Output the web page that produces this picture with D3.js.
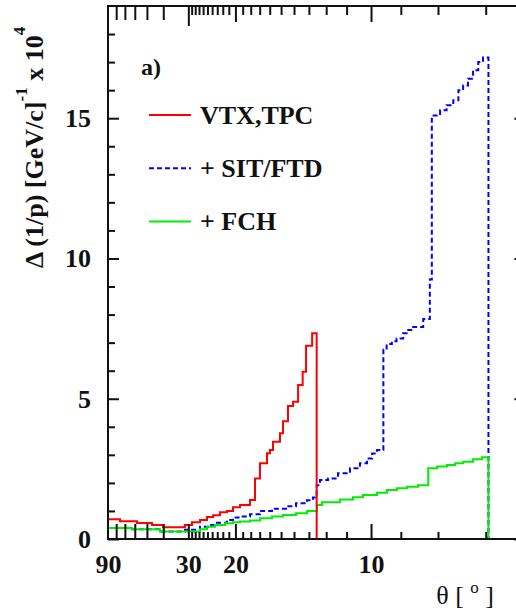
<!DOCTYPE html>
<html>
<head>
<meta charset="utf-8">
<script src="https://cdn.jsdelivr.net/npm/d3@7"></script>
<style>
  html, body { margin: 0; padding: 0; background: #fff; }
  svg { display: block; }
</style>
</head>
<body>
<svg id="chart" width="516" height="612"></svg>
<script>
// Momentum resolution Δ(1/p) [10^-4 (GeV/c)^-1] versus polar angle θ [deg].
// Each series: left bin edges in θ (decreasing), value of each bin, and the last edge.
const vtxTheta = [90, 75.5, 58.0, 46.5, 40.1, 31.1, 28.9, 26.75, 25.1, 23.8, 22.5, 21.3, 20.36, 19.36,
                  18.09, 17.51, 16.97, 16.26, 15.98, 15.70, 15.09, 14.84, 14.45, 14.07, 13.71, 13.40, 13.18, 12.80];
const vtxValue = [0.70, 0.63, 0.57, 0.50, 0.42, 0.50, 0.60, 0.68, 0.78, 0.85, 0.95, 1.00, 1.13, 1.21,
                  1.39, 2.16, 2.70, 3.06, 3.17, 3.47, 3.77, 4.20, 4.74, 4.89, 5.49, 5.96, 6.89, 7.33];
const vtxEnd = 12.53;

const sitTheta = [90, 62.64, 41.73, 31.06, 26.75, 24.45, 23.05, 21.30, 20.36, 19.36, 18.09, 16.97, 15.79,
                  14.60, 13.86, 13.12, 12.75, 12.53, 12.34, 11.90, 11.40, 10.85, 10.43, 10.15, 9.96, 9.78,
                  9.56, 9.45, 9.28, 9.13, 8.93, 8.78, 8.64, 8.37, 8.20, 8.15, 7.95, 7.80, 7.65, 7.54,
                  7.44, 7.34, 7.24, 7.14, 7.05];
const sitValue = [0.39, 0.35, 0.27, 0.33, 0.44, 0.50, 0.58, 0.68, 0.77, 0.80, 0.88, 1.00, 1.08,
                  1.17, 1.27, 1.38, 1.48, 1.92, 2.10, 2.16, 2.34, 2.52, 2.70, 2.87, 3.05, 3.17,
                  6.75, 6.95, 7.05, 7.15, 7.33, 7.45, 7.56, 7.84, 9.25, 15.10, 15.28, 15.46, 15.64, 16.00,
                  16.17, 16.41, 16.71, 17.00, 17.16];
const sitEnd = 6.95;

const fchTheta = [90, 62.64, 41.73, 26.75, 25.10, 23.44, 21.63, 20.36, 19.36, 18.09, 16.97, 15.79, 14.84,
                  13.86, 13.12, 12.51, 12.23, 11.31, 10.72, 10.31, 9.78, 9.44, 9.12, 8.82, 8.51,
                  8.24, 8.02, 7.79, 7.61, 7.44, 7.24, 7.07];
const fchValue = [0.39, 0.35, 0.27, 0.35, 0.44, 0.50, 0.56, 0.60, 0.62, 0.66, 0.74, 0.80, 0.855,
                  0.92, 1.00, 1.21, 1.31, 1.41, 1.49, 1.57, 1.65, 1.75, 1.81, 1.86, 1.92,
                  2.52, 2.58, 2.64, 2.70, 2.75, 2.84, 2.91];
const fchEnd = 6.95;

// Axis ticks
const thetaLabelTicks = [90, 30, 20, 10];
const thetaDecadeTicks = [80, 70, 60, 50, 40];
const thetaMainTicks = [30, 20, 10];
const thetaMinorTicks = [29, 28, 27, 26, 25, 24, 23, 22, 21, 19, 18, 17, 16, 15, 14, 13, 12, 11, 9, 8, 7];
const yMajorTicks = [0, 5, 10, 15];
const yMinorTicks = [1, 2, 3, 4, 6, 7, 8, 9, 11, 12, 13, 14, 16, 17, 18];

const svg = d3.select("#chart");
const plotLeft = 108, plotRight = 525.4, plotTop = 6, plotBottom = 539;

// Horizontal axis is linear in cot(θ)
const cot = t => 1 / Math.tan(t * Math.PI / 180);
const xCot = d3.scaleLinear().domain([0, 9]).range([plotLeft, plotRight]);
function x(theta) { return xCot(cot(theta)); }
x.copy = () => x;
x.range = () => xCot.range();
x.domain = () => [90, Math.atan(1 / 9) * 180 / Math.PI];

const y = d3.scaleLinear().domain([0, 19]).range([plotBottom, plotTop]);

const serif = "'Liberation Serif', 'Times New Roman', serif";

// Step curves
const stepLine = d3.line()
  .x(d => x(d[0]))
  .y(d => y(d[1]))
  .curve(d3.curveStepAfter);

function stepPoints(thetas, values, end) {
  const pts = thetas.map((t, i) => [t, values[i]]);
  pts.push([end, values[values.length - 1]]);
  pts.push([end, 0]);
  return pts;
}

const series = [
  { name: "+ SIT/FTD", theta: sitTheta, value: sitValue, end: sitEnd, color: "#0000ff", dash: "5,3" },
  { name: "+ FCH", theta: fchTheta, value: fchValue, end: fchEnd, color: "#00ee00", dash: null },
  { name: "VTX,TPC", theta: vtxTheta, value: vtxValue, end: vtxEnd, color: "#ff0000", dash: null }
];

svg.append("g").selectAll("path")
  .data(series)
  .join("path")
  .attr("d", s => stepLine(stepPoints(s.theta, s.value, s.end)))
  .attr("fill", "none")
  .attr("stroke", s => s.color)
  .attr("stroke-width", 2)
  .attr("stroke-dasharray", s => s.dash);

// Frame and ticks
function tidy(g) {
  g.select(".domain").remove();
  g.selectAll(".tick line").attr("stroke", "#111").attr("stroke-width", 2);
  g.selectAll(".tick text")
    .attr("font-family", serif)
    .attr("font-weight", "bold")
    .attr("font-size", 26)
    .attr("fill", "#111");
}

const axes = svg.append("g");

axes.append("g").attr("transform", `translate(0,${plotBottom})`)
  .call(d3.axisBottom(x).tickValues(thetaDecadeTicks.concat(thetaMainTicks)).tickSize(-15).tickFormat(""))
  .call(tidy);
axes.append("g").attr("transform", `translate(0,${plotBottom})`)
  .call(d3.axisBottom(x).tickValues(thetaMinorTicks).tickSize(-7).tickFormat(""))
  .call(tidy);
axes.append("g").attr("transform", `translate(0,${plotBottom})`)
  .call(d3.axisBottom(x).tickValues(thetaLabelTicks).tickSize(0).tickPadding(16).tickFormat(d3.format("d")))
  .call(tidy);

axes.append("g").attr("transform", `translate(0,${plotTop})`)
  .call(d3.axisTop(x).tickValues(thetaDecadeTicks).tickSize(-14).tickFormat(""))
  .call(tidy);
axes.append("g").attr("transform", `translate(0,${plotTop})`)
  .call(d3.axisTop(x).tickValues([30]).tickSize(-20).tickFormat(""))
  .call(tidy);
axes.append("g").attr("transform", `translate(0,${plotTop})`)
  .call(d3.axisTop(x).tickValues([20, 10]).tickSize(-16).tickFormat(""))
  .call(tidy);
axes.append("g").attr("transform", `translate(0,${plotTop})`)
  .call(d3.axisTop(x).tickValues(thetaMinorTicks).tickSize(-9).tickFormat(""))
  .call(tidy);

axes.append("g").attr("transform", `translate(${plotLeft},0)`)
  .call(d3.axisLeft(y).tickValues(yMajorTicks).tickSize(-11).tickPadding(17).tickFormat(d3.format("d")))
  .call(tidy);
axes.append("g").attr("transform", `translate(${plotLeft},0)`)
  .call(d3.axisLeft(y).tickValues(yMinorTicks).tickSize(-7).tickFormat(""))
  .call(tidy);
axes.append("g").attr("transform", `translate(${plotRight},0)`)
  .call(d3.axisRight(y).tickValues(yMajorTicks).tickSize(-11).tickFormat(""))
  .call(tidy);
axes.append("g").attr("transform", `translate(${plotRight},0)`)
  .call(d3.axisRight(y).tickValues(yMinorTicks).tickSize(-7).tickFormat(""))
  .call(tidy);

axes.append("rect")
  .attr("x", plotLeft).attr("y", plotTop)
  .attr("width", plotRight - plotLeft).attr("height", plotBottom - plotTop)
  .attr("fill", "none").attr("stroke", "#111").attr("stroke-width", 2);

// Panel tag
svg.append("text")
  .attr("x", 141).attr("y", 75)
  .attr("font-family", serif).attr("font-weight", "bold").attr("font-size", 24)
  .attr("fill", "#111")
  .text("a)");

// Legend
const legendOrder = [series[2], series[0], series[1]];
const legend = svg.append("g").selectAll("g")
  .data(legendOrder)
  .join("g")
  .attr("transform", (d, i) => `translate(0,${115 + i * 53.3})`);
legend.append("line")
  .attr("x1", 149).attr("x2", 191).attr("y1", 0).attr("y2", 0)
  .attr("stroke", d => d.color).attr("stroke-width", 2)
  .attr("stroke-dasharray", d => d.dash);
legend.append("text")
  .attr("x", 200).attr("y", 8.5)
  .attr("font-family", serif).attr("font-weight", "bold").attr("font-size", 26)
  .attr("fill", "#111")
  .text(d => d.name);

// Axis titles
const xTitle = svg.append("text")
  .attr("x", 494).attr("y", 604)
  .attr("text-anchor", "end")
  .attr("font-family", serif).attr("font-size", 26).attr("fill", "#111");
xTitle.append("tspan").text("θ [ ");
xTitle.append("tspan").attr("dy", -11).attr("font-size", 17).text("o");
xTitle.append("tspan").attr("dy", 11).text(" ]");

const yTitle = svg.append("text")
  .attr("transform", "translate(43,268) rotate(-90)")
  .attr("font-family", serif).attr("font-weight", "bold").attr("font-size", 26)
  .attr("fill", "#111");
yTitle.append("tspan").text("Δ (1/p) [GeV/c]");
yTitle.append("tspan").attr("dy", -16).attr("font-size", 17).text("-1");
yTitle.append("tspan").attr("dy", 16).text(" x 10");
yTitle.append("tspan").attr("dy", -18).attr("font-size", 17).text("4");
</script>
</body>
</html>
